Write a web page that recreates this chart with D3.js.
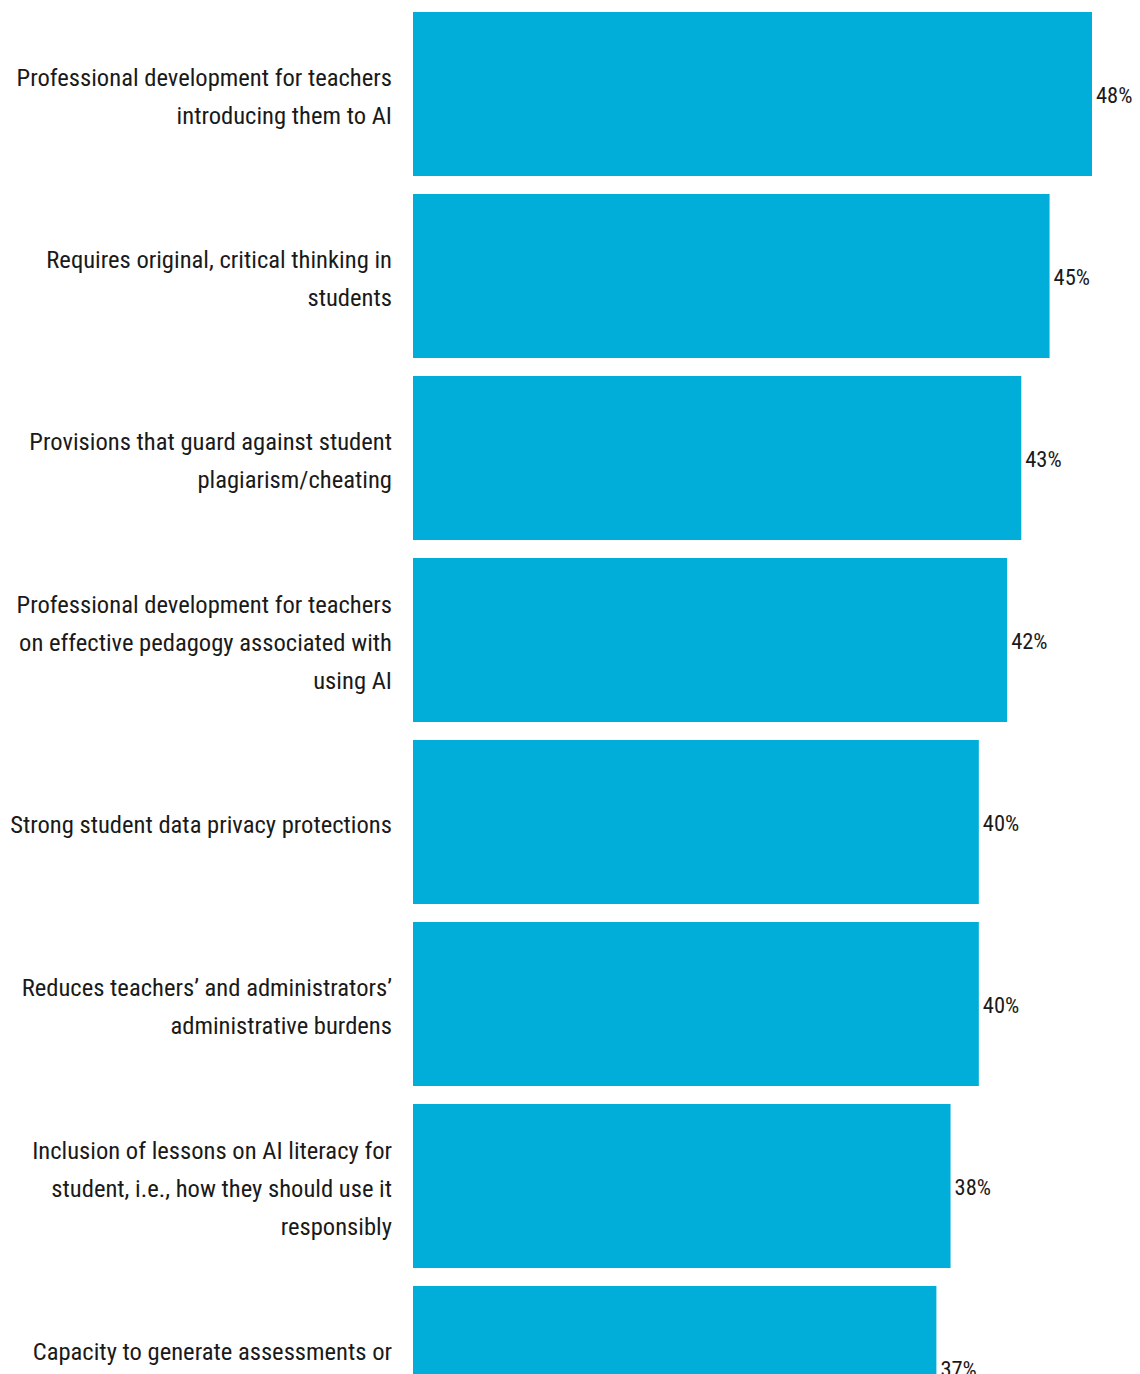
<!DOCTYPE html>
<html><head><meta charset="utf-8">
<script src="https://cdn.jsdelivr.net/npm/d3@7"></script>
<style>
html,body{margin:0;padding:0;background:#fff;}
svg{display:block;}
text{font-family:"Liberation Sans Narrow","Roboto Condensed","Liberation Sans",sans-serif;fill:#1a1a1a;}
</style></head>
<body>
<script>
const categories = [
  ["Professional development for teachers","introducing them to AI"],
  ["Requires original, critical thinking in","students"],
  ["Provisions that guard against student","plagiarism/cheating"],
  ["Professional development for teachers","on effective pedagogy associated with","using AI"],
  ["Strong student data privacy protections"],
  ["Reduces teachers\u2019 and administrators\u2019","administrative burdens"],
  ["Inclusion of lessons on AI literacy for","student, i.e., how they should use it","responsibly"],
  ["Capacity to generate assessments or","quizzes"]
];
const values = [48, 45, 43, 42, 40, 40, 38, 37];
const valueLabels = ["48%","45%","43%","42%","40%","40%","38%","37%"];

const W = 1140, H = 1374;
const svg = d3.select("body").append("svg").attr("width", W).attr("height", H);

const ids = categories.map((c,i)=>i);
const y = d3.scaleBand().domain(ids).range([12, 12 + 8*182 - 18]).paddingInner(18/182).paddingOuter(0);
const x = d3.scaleLinear().domain([0, 48]).range([413, 1092]);

svg.selectAll("rect.bar").data(values).join("rect")
  .attr("class","bar")
  .attr("x", x(0))
  .attr("y", (d,i)=>y(i))
  .attr("width", d=>x(d)-x(0))
  .attr("height", y.bandwidth())
  .attr("fill", "#00aed9");

svg.selectAll("text.val").data(values).join("text")
  .attr("class","val")
  .attr("x", d=>x(d)+4)
  .attr("y", (d,i)=>y(i)+y.bandwidth()/2 + 1)
  .attr("dy","0.35em")
  .attr("font-size", 22.5)
  .text((d,i)=>valueLabels[i]);

const lh = 38;
const lab = svg.selectAll("text.lab").data(categories).join("text")
  .attr("class","lab")
  .attr("text-anchor","end")
  .attr("font-size", 24.6);
lab.each(function(lines,i){
  const cy = y(i)+y.bandwidth()/2 + 2;
  const n = lines.length;
  d3.select(this).selectAll("tspan").data(lines).join("tspan")
    .attr("x", 392)
    .attr("y", (l,j)=> cy + (j-(n-1)/2)*lh)
    .attr("dy","0.35em")
    .text(l=>l);
});
</script>
</body></html>
